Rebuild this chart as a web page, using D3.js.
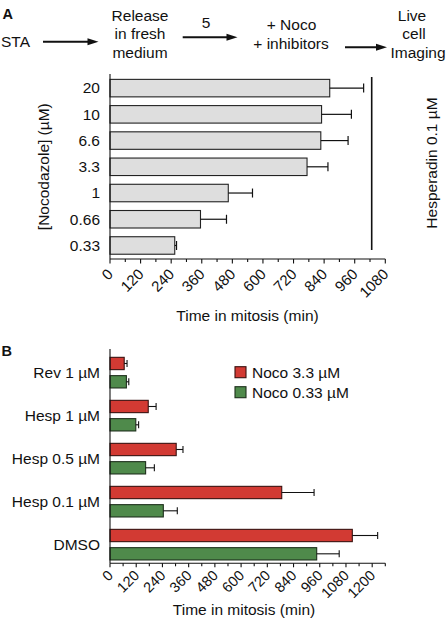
<!DOCTYPE html>
<html><head><meta charset="utf-8">
<script src="https://cdn.jsdelivr.net/npm/d3@7"></script>
<style>
html,body{margin:0;padding:0;background:#fff;}
text{font-family:"Liberation Sans",Arial,Helvetica,sans-serif;fill:#111;}
</style></head>
<body>
<svg id="chart" width="446" height="628"></svg>
<script>
// ---- Panel A data ----
const concLabels = ["20","10","6.6","3.3","1","0.66","0.33"];
const concMeans  = [862, 830, 827, 773, 464, 355, 254];
const concErrors = [133, 117, 107, 82, 95, 102, 7];
const aTicks = [0,120,240,360,480,600,720,840,960,1080];

// ---- Panel B data ----
const treatments = ["Rev 1 µM","Hesp 1 µM","Hesp 0.5 µM","Hesp 0.1 µM","DMSO"];
const seriesNames = ["Noco 3.3 µM","Noco 0.33 µM"];
const noco33    = [65, 175, 303, 786, 1109];
const noco33Err = [13, 36, 31, 148, 116];
const noco033    = [75, 118, 163, 244, 946];
const noco033Err = [11, 13, 40, 64, 103];
const bTicks = [0,120,240,360,480,600,720,840,960,1080,1200];

const svg = d3.select("#chart");
const FS = 15.5;
const ink = "#111";

function arrow(x1, x2, y){
  svg.append("line").attr("x1",x1).attr("x2",x2-8).attr("y1",y).attr("y2",y)
     .attr("stroke",ink).attr("stroke-width",2);
  svg.append("path").attr("d",`M${x2},${y} L${x2-11},${y-3.5} L${x2-11},${y+3.5} Z`).attr("fill",ink);
}
function txt(x,y,s,anchor="start",size=FS,weight="normal"){
  return svg.append("text").attr("x",x).attr("y",y).attr("text-anchor",anchor)
    .attr("font-size",size).attr("font-weight",weight).text(s);
}

// ---- Top flow diagram ----
txt(2.5,18.5,"A","start",14.5,"bold");
txt(1,46.7,"STA");
arrow(43,98.5,41.7);
txt(140,20.7,"Release","middle");
txt(140,39.3,"in fresh","middle");
txt(140,58.3,"medium","middle");
txt(206,28.3,"5","middle");
arrow(182.7,237.5,37.3);
txt(291.5,30,"+ Noco","middle");
txt(291,49.3,"+ inhibitors","middle");
arrow(345,387,47.3);
txt(412,20.5,"Live","middle");
txt(414,39.3,"cell","middle");
txt(418,58.3,"Imaging","middle");

// ---- Panel A chart ----
const xA = d3.scaleLinear().domain([0,1080]).range([110,385.3]);
const yA = d3.scaleBand().domain(concLabels).range([75,258.6]).paddingInner(0.333).paddingOuter(0.1667);
const axisYA = 259;

const gA = svg.append("g");
gA.selectAll("rect.a").data(concLabels).join("rect")
  .attr("x", xA(0)).attr("y", d=>yA(d))
  .attr("width",(d,i)=>xA(concMeans[i])-xA(0)).attr("height",yA.bandwidth())
  .attr("fill","#dedede").attr("stroke","#222").attr("stroke-width",1.1);
// error bars
concLabels.forEach((d,i)=>{
  const cy = yA(d)+yA.bandwidth()/2;
  const x1 = xA(concMeans[i]), x2 = xA(concMeans[i]+concErrors[i]);
  gA.append("line").attr("x1",x1).attr("x2",x2).attr("y1",cy).attr("y2",cy).attr("stroke",ink).attr("stroke-width",1.2);
  gA.append("line").attr("x1",x2).attr("x2",x2).attr("y1",cy-4.5).attr("y2",cy+4.5).attr("stroke",ink).attr("stroke-width",1.2);
  txt(100, cy+5.3, d, "end");
});
// axes
gA.append("line").attr("x1",110).attr("x2",110).attr("y1",74).attr("y2",axisYA).attr("stroke",ink).attr("stroke-width",1.1);
gA.append("line").attr("x1",110).attr("x2",xA(1080)).attr("y1",axisYA).attr("y2",axisYA).attr("stroke",ink).attr("stroke-width",1.1);
d3.range(0,1081,60).forEach(v=>{
  gA.append("line").attr("x1",xA(v)).attr("x2",xA(v)).attr("y1",axisYA).attr("y2",axisYA+(v%120===0?4.5:3)).attr("stroke",ink).attr("stroke-width",1.1);
});
aTicks.forEach(v=>{
  svg.append("text").attr("transform",`translate(${xA(v)+4},${axisYA+16}) rotate(-45)`)
    .attr("text-anchor","end").attr("font-size",15).text(v);
});
txt(247.5,320.7,"Time in mitosis (min)","middle");
svg.append("text").attr("transform","translate(49,166.7) rotate(-90)").attr("text-anchor","middle")
  .attr("font-size",FS).text("[Nocodazole] (µM)");
// Hesperadin bracket
gA.append("line").attr("x1",371.7).attr("x2",371.7).attr("y1",77).attr("y2",250).attr("stroke",ink).attr("stroke-width",1.6);
svg.append("text").attr("transform","translate(437,163) rotate(-90)").attr("text-anchor","middle")
  .attr("font-size",FS).text("Hesperadin 0.1 µM");

// ---- Panel B chart ----
txt(1.5,355.5,"B","start",14.5,"bold");
const xB = d3.scaleLinear().domain([0,1260]).range([110,385.3]);
const yB = d3.scaleBand().domain(treatments).range([352,565.3]).paddingInner(0.288).paddingOuter(0.124);
const yBi = d3.scaleBand().domain(seriesNames).range([0,yB.bandwidth()]).paddingInner(0.328);
const colors = d3.scaleOrdinal().domain(seriesNames).range(["#d23a33","#4f8a4b"]);
const strokes = d3.scaleOrdinal().domain(seriesNames).range(["#3a1210","#1e301c"]);
const axisYB = 563.3;
const seriesVals = [noco33, noco033];
const seriesErrs = [noco33Err, noco033Err];

const gB = svg.append("g");
treatments.forEach((t,i)=>{
  seriesNames.forEach((s,j)=>{
    const y = yB(t)+yBi(s), h = yBi.bandwidth(), v = seriesVals[j][i], e = seriesErrs[j][i];
    gB.append("rect").attr("x",xB(0)).attr("y",y).attr("width",xB(v)-xB(0)).attr("height",h)
      .attr("fill",colors(s)).attr("stroke",strokes(s)).attr("stroke-width",1.1);
    const cy = y+h/2, x1 = xB(v), x2 = xB(v+e);
    gB.append("line").attr("x1",x1).attr("x2",x2).attr("y1",cy).attr("y2",cy).attr("stroke",ink).attr("stroke-width",1.1);
    gB.append("line").attr("x1",x2).attr("x2",x2).attr("y1",cy-3.5).attr("y2",cy+3.5).attr("stroke",ink).attr("stroke-width",1.1);
  });
  txt(100, yB(t)+yB.bandwidth()/2+5.5, t, "end");
});
gB.append("line").attr("x1",110).attr("x2",110).attr("y1",349).attr("y2",axisYB).attr("stroke",ink).attr("stroke-width",1.1);
gB.append("line").attr("x1",110).attr("x2",xB(1260)).attr("y1",axisYB).attr("y2",axisYB).attr("stroke",ink).attr("stroke-width",1.1);
d3.range(0,1261,60).forEach(v=>{
  gB.append("line").attr("x1",xB(v)).attr("x2",xB(v)).attr("y1",axisYB).attr("y2",axisYB+(v%120===0?4:3)).attr("stroke",ink).attr("stroke-width",1.1);
});
bTicks.forEach(v=>{
  svg.append("text").attr("transform",`translate(${xB(v)+4},${axisYB+13}) rotate(-45)`)
    .attr("text-anchor","end").attr("font-size",14.5).text(v);
});
txt(244,615,"Time in mitosis (min)","middle");
// legend
seriesNames.forEach((s,j)=>{
  const y = 366.7 + j*20;
  svg.append("rect").attr("x",235).attr("y",y).attr("width",11).attr("height",11)
    .attr("fill",colors(s)).attr("stroke",strokes(s)).attr("stroke-width",1.1);
  txt(252, y+10.8, s, "start");
});
</script>
</body></html>
